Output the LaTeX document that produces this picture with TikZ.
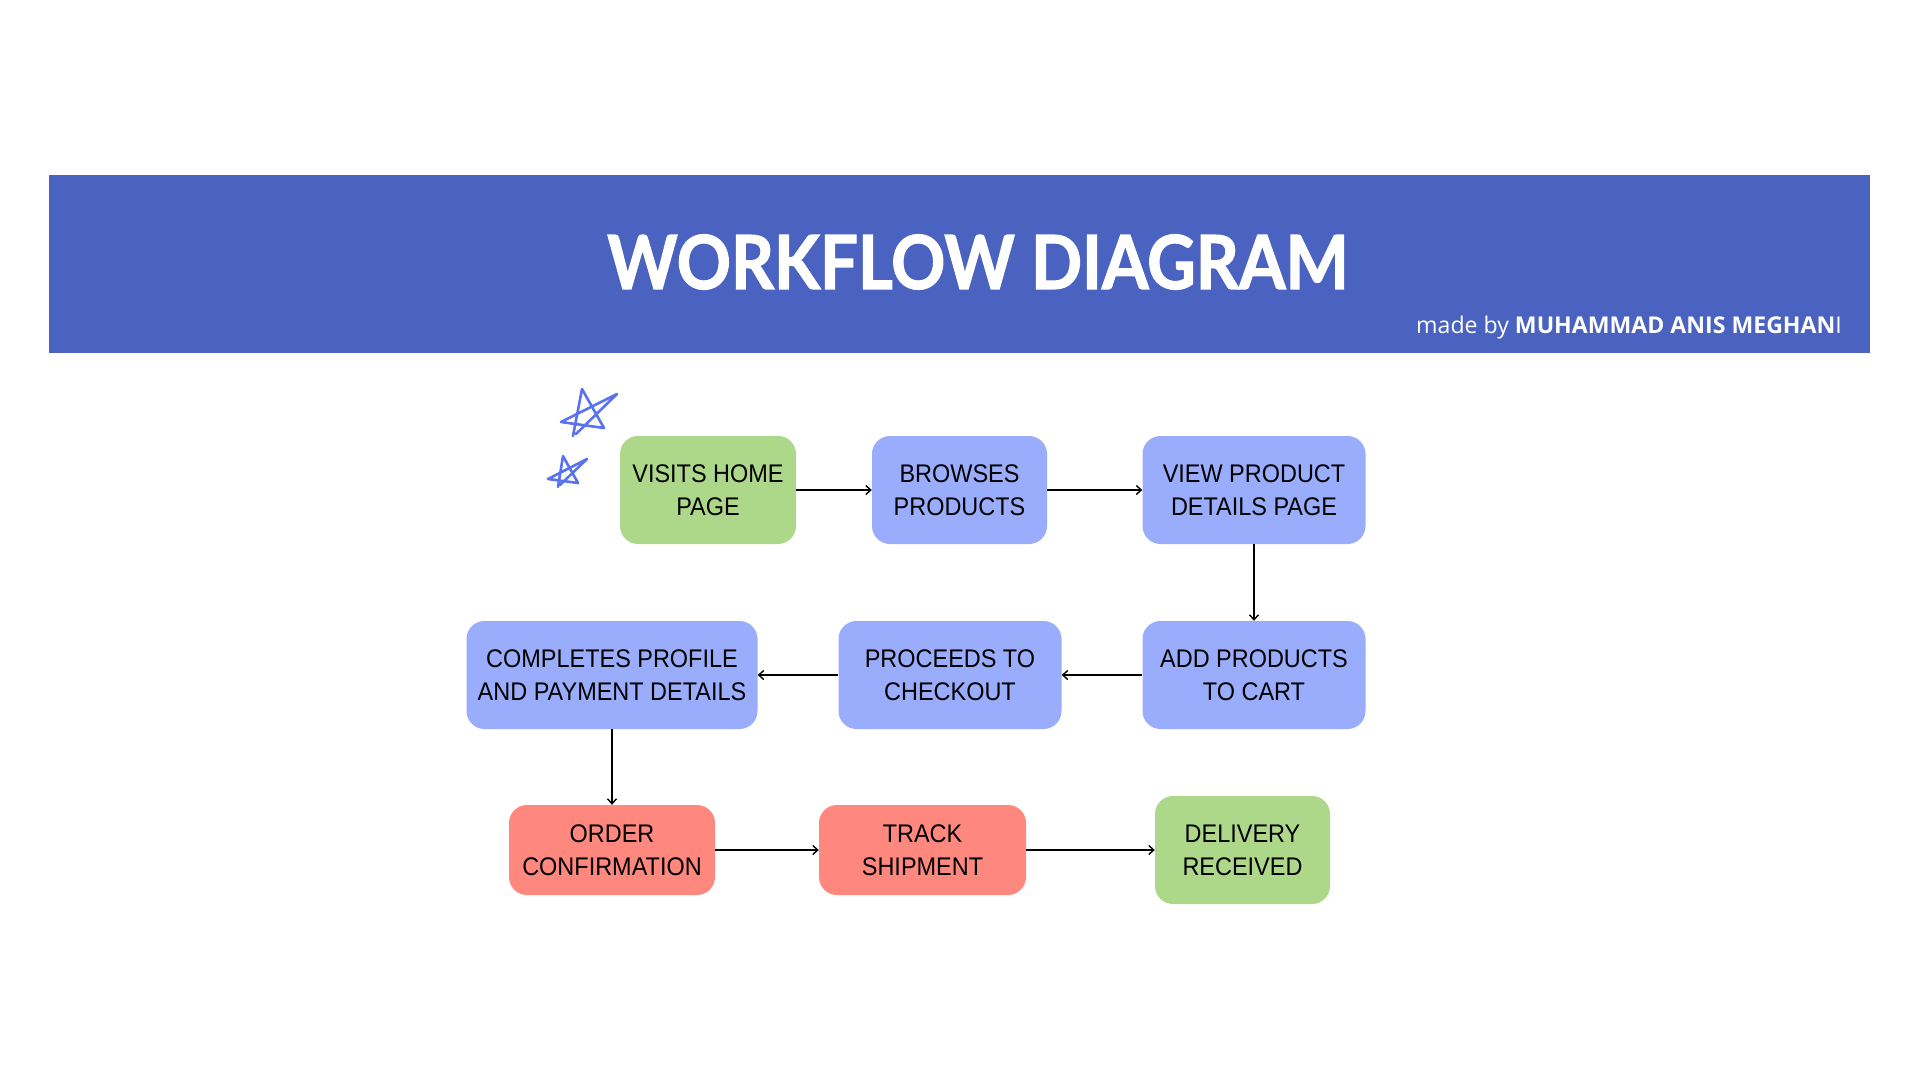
\documentclass[tikz,border=0pt]{standalone}
\usepackage{fontspec}
\setmainfont{Liberation Sans}[FakeStretch=0.92]
\newfontfamily\titlefont{Lato}[FakeStretch=0.9, BoldFeatures={FakeBold=1.6}]
\newfontfamily\creditfont{Open Sans}
\usetikzlibrary{arrows.meta}
\definecolor{banner}{HTML}{4A62C0}
\definecolor{gbox}{HTML}{ADD88A}
\definecolor{bbox}{HTML}{9AADFC}
\definecolor{rbox}{HTML}{FF887E}
\definecolor{starc}{HTML}{5B72F0}
\tikzset{
  flowbox/.style={rounded corners=18pt, minimum height=108pt, align=center, inner sep=0pt,
    font=\fontsize{25.5}{33}\selectfont, text=black},
  greenbox/.style={flowbox, fill=gbox},
  bluebox/.style={flowbox, fill=bbox},
  redbox/.style={flowbox, fill=rbox, minimum height=90pt},
  conn/.style={line width=1.6pt, -{Straight Barb[length=5pt,width=9pt,line width=1.4pt]}},
  starline/.style={draw=starc, line width=2.6pt, line cap=round, line join=round}
}
\begin{document}
\begin{tikzpicture}[x=1pt,y=-1pt]
\path[use as bounding box, fill=white] (0,0) rectangle (1920,1080);
% banner
\fill[banner] (49,175) rectangle (1870,353);
\node (title) at (978,262) {\titlefont\bfseries\fontsize{74.5}{78}\selectfont\color{white}WORKFLOW DIAGRAM};
\node[anchor=east, inner sep=0pt] (credit) at (1842,327) {\creditfont\fontsize{23.1}{25}\selectfont\color{white}made by \textbf{MUHAMMAD ANIS MEGHAN}I};
% stars
\draw[starline] (573,436) -- (582,389) -- (604,428) -- (561,422) -- (617,394) -- (576,434);
\draw[starline] (558,487) -- (563,456) -- (578,483) -- (548,479) -- (587,459) -- (560,485);
% nodes
\node[greenbox, minimum width=176pt] (n1) at (708,490) {VISITS HOME\\PAGE};
\node[bluebox, minimum width=175pt] (n2) at (959.5,490) {BROWSES\\PRODUCTS};
\node[bluebox, minimum width=223pt] (n3) at (1254,490) {VIEW PRODUCT\\DETAILS PAGE};
\node[bluebox, minimum width=223pt] (n4) at (1254,675) {ADD PRODUCTS\\TO CART};
\node[bluebox, minimum width=223pt] (n5) at (950,675) {PROCEEDS TO\\CHECKOUT};
\node[bluebox, minimum width=291pt] (n6) at (612,675) {COMPLETES PROFILE\\AND PAYMENT DETAILS};
\node[redbox, minimum width=206pt] (n7) at (612,850) {ORDER\\CONFIRMATION};
\node[redbox, minimum width=207pt] (n8) at (922.5,850) {TRACK\\SHIPMENT};
\node[greenbox, minimum width=175pt] (n9) at (1242.5,850) {DELIVERY\\RECEIVED};
% connectors
\draw[conn] (n1) -- (n2);
\draw[conn] (n2) -- (n3);
\draw[conn] (n3) -- (n4);
\draw[conn] (n4) -- (n5);
\draw[conn] (n5) -- (n6);
\draw[conn] (n6) -- (n7);
\draw[conn] (n7) -- (n8);
\draw[conn] (n8) -- (n9);
\end{tikzpicture}
\end{document}
